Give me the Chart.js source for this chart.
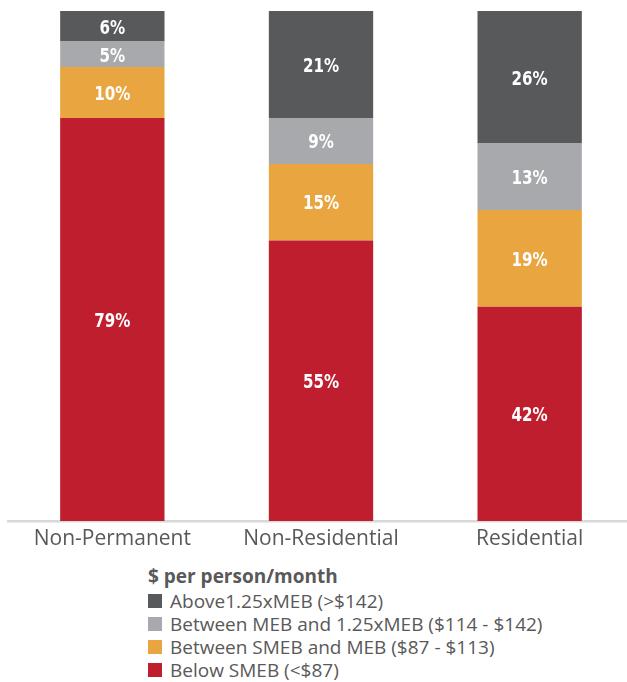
<!DOCTYPE html>
<html>
<head>
<meta charset="utf-8">
<script src="https://cdn.jsdelivr.net/npm/chart.js@4"></script>
<style>
  html, body { margin: 0; padding: 0; background: #fff; overflow: hidden; }
  #wrap { position: relative; width: 634px; height: 550px; }
  #legend { position: absolute; left: 148px; top: 563px; font-family: "Open Sans", sans-serif; color: #595959; }
  #legend .ttl { font-weight: 700; font-size: 19px; height: 26px; line-height: 26px; }
  #legend .row { display: flex; align-items: center; font-size: 19px; height: 23px; }
  #legend .box { width: 14px; height: 14px; margin-right: 8px; }
</style>
</head>
<body>
<div id="wrap"><canvas id="chart"></canvas></div>
<div id="legend"></div>
<script>
const categories = ["Non-Permanent", "Non-Residential", "Residential"];
const belowSmeb = [79, 55, 42];
const smebToMeb = [10, 15, 19];
const mebTo125 = [5, 9, 13];
const above125 = [6, 21, 26];
const legendTitle = "$ per person/month";

const datasets = [
  { label: "Below SMEB (<$87)", data: belowSmeb, backgroundColor: "#be1e2d" },
  { label: "Between SMEB and MEB ($87 - $113)", data: smebToMeb, backgroundColor: "#e8a540" },
  { label: "Between MEB and 1.25xMEB ($114 - $142)", data: mebTo125, backgroundColor: "#a7a9ac" },
  { label: "Above1.25xMEB (>$142)", data: above125, backgroundColor: "#58595b" }
];

// white % labels in the middle of each segment, squeezed a bit to look condensed
const segLabels = {
  id: "segLabels",
  afterDatasetsDraw(chart) {
    const ctx = chart.ctx;
    const squeeze = 0.84;
    chart.data.datasets.forEach((ds, i) => {
      chart.getDatasetMeta(i).data.forEach((bar, j) => {
        const y = (bar.y + bar.base) / 2 + 2;
        ctx.save();
        ctx.fillStyle = "#ffffff";
        ctx.font = "bold 20px 'DejaVu Sans Condensed', 'DejaVu Sans', sans-serif";
        ctx.textAlign = "center";
        ctx.textBaseline = "middle";
        ctx.translate(bar.x, y);
        ctx.scale(squeeze, 1);
        ctx.fillText(ds.data[j] + "%", 0, 0);
        ctx.restore();
      });
    });
  }
};

const chart = new Chart(document.getElementById("chart"), {
  type: "bar",
  data: { labels: categories, datasets: datasets },
  options: {
    responsive: true,
    maintainAspectRatio: false,
    animation: false,
    layout: { padding: { top: 11, left: 8, right: 0 } },
    datasets: { bar: { barPercentage: 0.5, categoryPercentage: 1 } },
    plugins: {
      legend: { display: false },
      tooltip: { enabled: false }
    },
    scales: {
      x: {
        stacked: true,
        grid: { display: false },
        border: { color: "#d9d9d9", width: 2.5 },
        ticks: {
          color: "#595959",
          padding: 0,
          font: { size: 21, lineHeight: 1, family: "'Open Sans', sans-serif" }
        }
      },
      y: {
        stacked: true,
        display: false,
        min: 0,
        max: 100
      }
    }
  },
  plugins: [segLabels]
});

// legend below the chart, top row is the top of the stack
const leg = document.getElementById("legend");
let html = '<div class="ttl">' + legendTitle + '</div>';
datasets.slice().reverse().forEach(ds => {
  html += '<div class="row"><span class="box" style="background:' + ds.backgroundColor + '"></span>' + ds.label + '</div>';
});
leg.innerHTML = html;
</script>
</body>
</html>
